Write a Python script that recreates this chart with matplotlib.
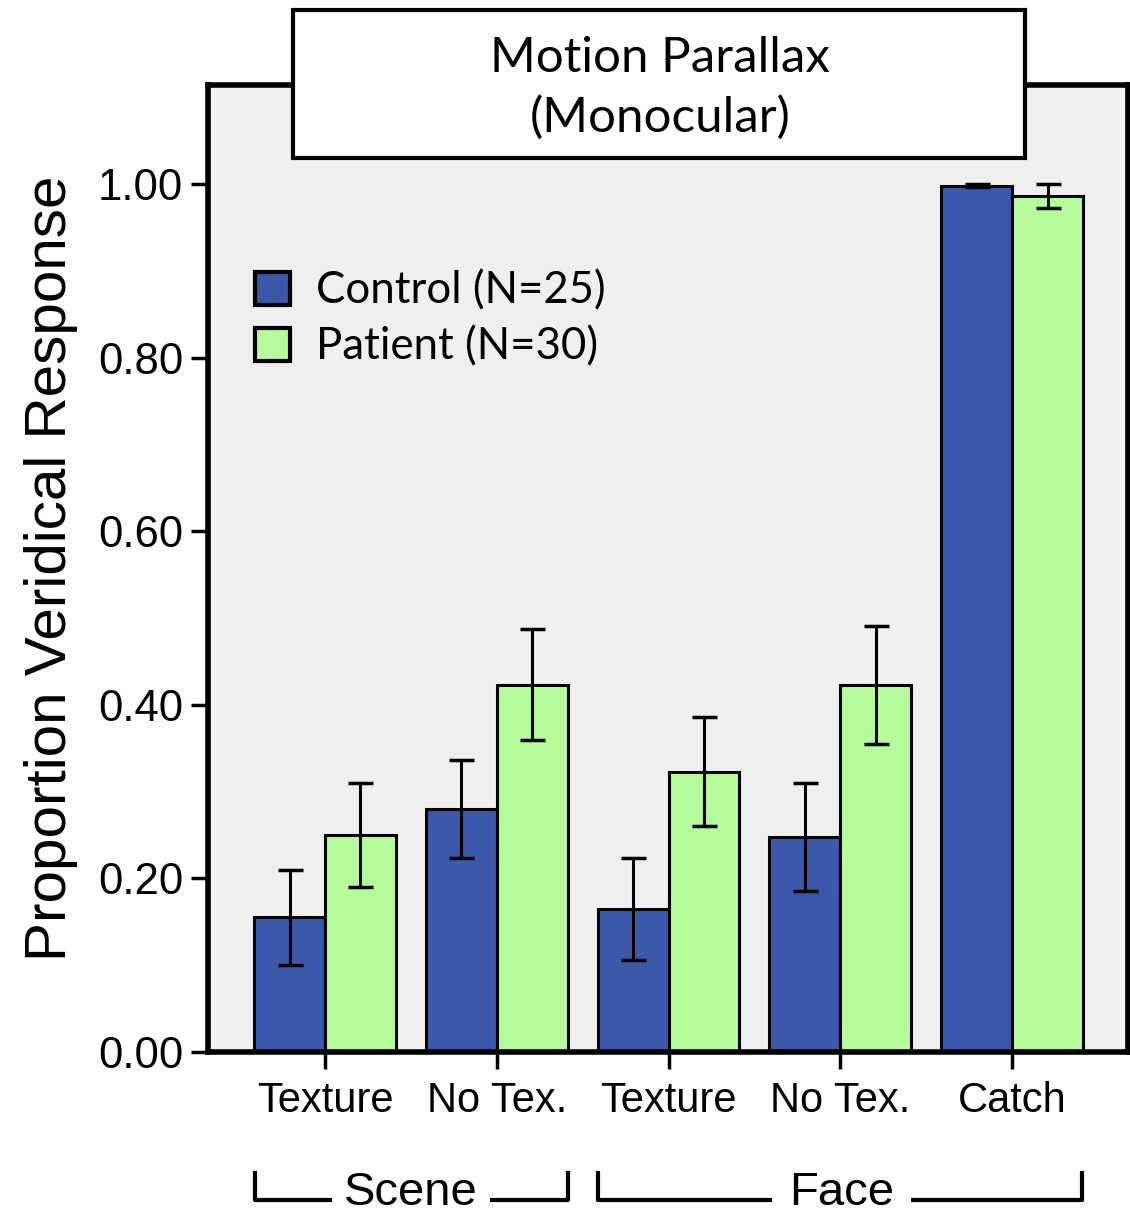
import numpy as np
import matplotlib
matplotlib.use("Agg")
import matplotlib.pyplot as plt
from matplotlib.patches import Rectangle, Patch
from matplotlib.lines import Line2D

# condition labels and group means / standard errors
conditions = ["Texture", "No Tex.", "Texture", "No Tex.", "Catch"]
control = [0.155, 0.280, 0.165, 0.248, 0.998]
control_err = [0.055, 0.056, 0.059, 0.062, 0.002]
patient = [0.250, 0.423, 0.323, 0.423, 0.986]
patient_err = [0.060, 0.064, 0.063, 0.068, 0.014]
groups = ["Scene", "Face"]

blue = "#3b58aa"
green = "#b5fb9a"

fig = plt.figure(figsize=(11.3, 12.15), dpi=100)
ax = fig.add_axes([208 / 1130, 1 - 1052 / 1215, 920 / 1130, (1052 - 85) / 1215])
ax.set_facecolor("#efefef")

x = np.arange(len(conditions))
w = 0.413
ax.bar(x - w / 2, control, w, color=blue, edgecolor="black", linewidth=2.2, zorder=2)
ax.bar(x + w / 2, patient, w, color=green, edgecolor="black", linewidth=2.2, zorder=2)
ax.errorbar(x - w / 2, control, yerr=control_err, fmt="none", ecolor="black",
            elinewidth=2.2, capsize=9, capthick=2.5, zorder=3)
ax.errorbar(x + w / 2, patient, yerr=patient_err, fmt="none", ecolor="black",
            elinewidth=2.2, capsize=9, capthick=2.5, zorder=3)

ax.set_xlim(-0.681, 4.675)
ax.set_ylim(0, 1.114)
ax.set_yticks([0, 0.2, 0.4, 0.6, 0.8, 1.0])
ax.set_yticklabels(["0.00", "0.20", "0.40", "0.60", "0.80", "1.00"],
                   family="Liberation Sans", fontsize=31.5)
ax.set_xticks(x)
ax.set_xticklabels(conditions, family="Liberation Sans", fontsize=30)
ax.tick_params(axis="both", direction="out", length=12, width=2.5, pad=6)
ax.tick_params(axis="x", pad=9)
for s in ax.spines.values():
    s.set_linewidth(4)
ax.set_ylabel("Proportion Veridical Response", family="Liberation Sans",
              fontsize=42, labelpad=14)

# legend
handles = [Patch(facecolor=blue, edgecolor="black", linewidth=3),
           Patch(facecolor=green, edgecolor="black", linewidth=3)]
ax.legend(handles, ["Control (N=25)", "Patient (N=30)"], loc="upper left",
          bbox_to_anchor=(0.051, 0.808), frameon=False, borderpad=0,
          borderaxespad=0, prop={"family": "Lato", "size": 31.5},
          handlelength=0.8, handleheight=0.8, handletextpad=0.6,
          labelspacing=0.33)

# title box above the axes
fig.patches.append(Rectangle((293 / 1130, 1 - 158 / 1215), 732 / 1130, 148 / 1215,
                             transform=fig.transFigure, facecolor="white",
                             edgecolor="black", linewidth=3, zorder=5))
fig.text(660 / 1130, 1 - 88 / 1215, "Motion Parallax\n(Monocular)", ha="center",
         va="center", family="Lato", fontsize=35.5, linespacing=1.4, zorder=6)

# group brackets under the tick labels
def bracket(x0, x1, gap0, gap1, label, xc):
    y = 1 - 1200 / 1215
    yt = 1 - 1173 / 1215
    kw = dict(color="black", linewidth=3, transform=fig.transFigure)
    fig.lines.append(Line2D([x0 / 1130, x0 / 1130, gap0 / 1130], [yt, y, y], **kw))
    fig.lines.append(Line2D([gap1 / 1130, x1 / 1130, x1 / 1130], [y, y, yt], **kw))
    fig.text(xc / 1130, 1 - 1205 / 1215, label, ha="center", va="baseline",
             family="Liberation Sans", fontsize=34)

bracket(255, 568, 330, 492, groups[0], 411)
bracket(598, 1082, 770, 913, groups[1], 842)

fig.savefig("out.png", dpi=100)
